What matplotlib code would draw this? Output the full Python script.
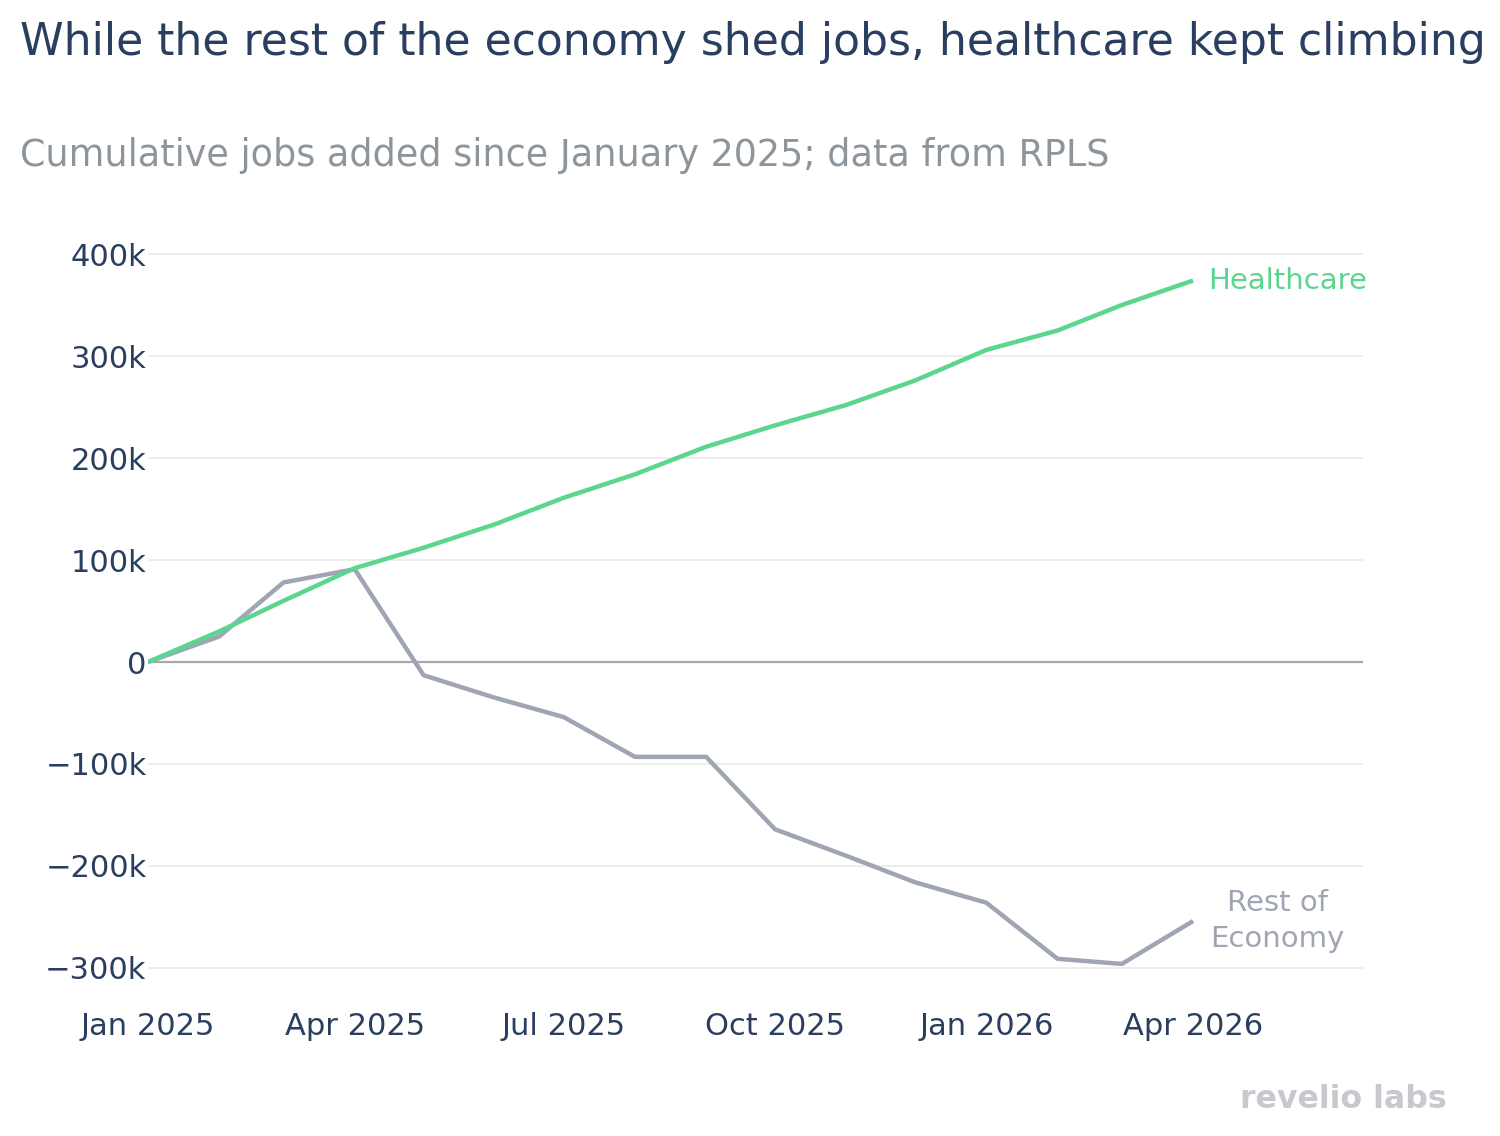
import matplotlib
matplotlib.use("Agg")
import matplotlib.pyplot as plt
import matplotlib.dates as mdates
from datetime import date

# monthly data, cumulative jobs since Jan 2025
months = [date(2025, m, 1) for m in range(1, 13)] + [date(2026, m, 1) for m in range(1, 5)]
healthcare = [0, 30000, 60000, 92000, 112000, 135000, 161000, 184000, 211000,
              232000, 252000, 276000, 306000, 325000, 350000, 374000]
rest_of_economy = [0, 25000, 78000, 91000, -13000, -35000, -54000, -93000, -93000,
                   -164000, -190000, -216000, -236000, -291000, -296000, -254000]

yticks = [-300000, -200000, -100000, 0, 100000, 200000, 300000, 400000]
xticks = [date(2025, 1, 1), date(2025, 4, 1), date(2025, 7, 1), date(2025, 10, 1),
          date(2026, 1, 1), date(2026, 4, 1)]

GREEN = "#5ad68f"
GRAY = "#a0a5b4"
NAVY = "#2a3f5f"

fig = plt.figure(figsize=(15, 11.36), dpi=100)
ax = fig.add_axes([148 / 1500, 0.1241, (1363 - 148) / 1500, 0.7975 - 0.1241])

for y in yticks:
    if y != 0:
        ax.axhline(y, color="#ececec", lw=1.3, zorder=0)
ax.axhline(0, color="#a8a8a8", lw=1.6, zorder=1)

ax.plot(months, healthcare, color=GREEN, lw=3.2, zorder=3, solid_capstyle="butt")
ax.plot(months, rest_of_economy, color=GRAY, lw=3.2, zorder=2, solid_capstyle="butt")

ax.set_xlim(date(2025, 1, 1), date(2026, 6, 14))
ax.set_ylim(-326500, 423500)
ax.set_xticks(xticks)
ax.xaxis.set_major_formatter(mdates.DateFormatter("%b %Y"))
ax.set_yticks(yticks)
ax.set_yticklabels(["0" if v == 0 else f"{v // 1000:d}k".replace("-", "\u2212") for v in yticks])
ax.tick_params(axis="both", length=0, labelsize=22, colors=NAVY)
ax.tick_params(axis="y", pad=1)
ax.tick_params(axis="x", pad=12)
for s in ax.spines.values():
    s.set_visible(False)

ax.annotate("Healthcare", (months[-1], healthcare[-1]), xytext=(11, 0),
            textcoords="offset points", color=GREEN, fontsize=21, va="center", ha="left")
ax.annotate("Rest of\nEconomy", (months[-1], rest_of_economy[-1]), xytext=(61, 0),
            textcoords="offset points", color=GRAY, fontsize=21, va="center", ha="center",
            linespacing=1.38)

fig.text(20 / 1500, 1 - 42 / 1136, "While the rest of the economy shed jobs, healthcare kept climbing",
         fontsize=31.8, color=NAVY, va="center", ha="left")
fig.text(20 / 1500, 1 - 155 / 1136, "Cumulative jobs added since January 2025; data from RPLS",
         fontsize=26.3, color="#8c949c", va="center", ha="left")
fig.text(1447 / 1500, 1 - 1100 / 1136, "revelio labs", fontsize=22.8, fontweight="bold",
         color="#c8c9ce", va="center", ha="right")

fig.savefig("out.png", dpi=100, facecolor="white")
